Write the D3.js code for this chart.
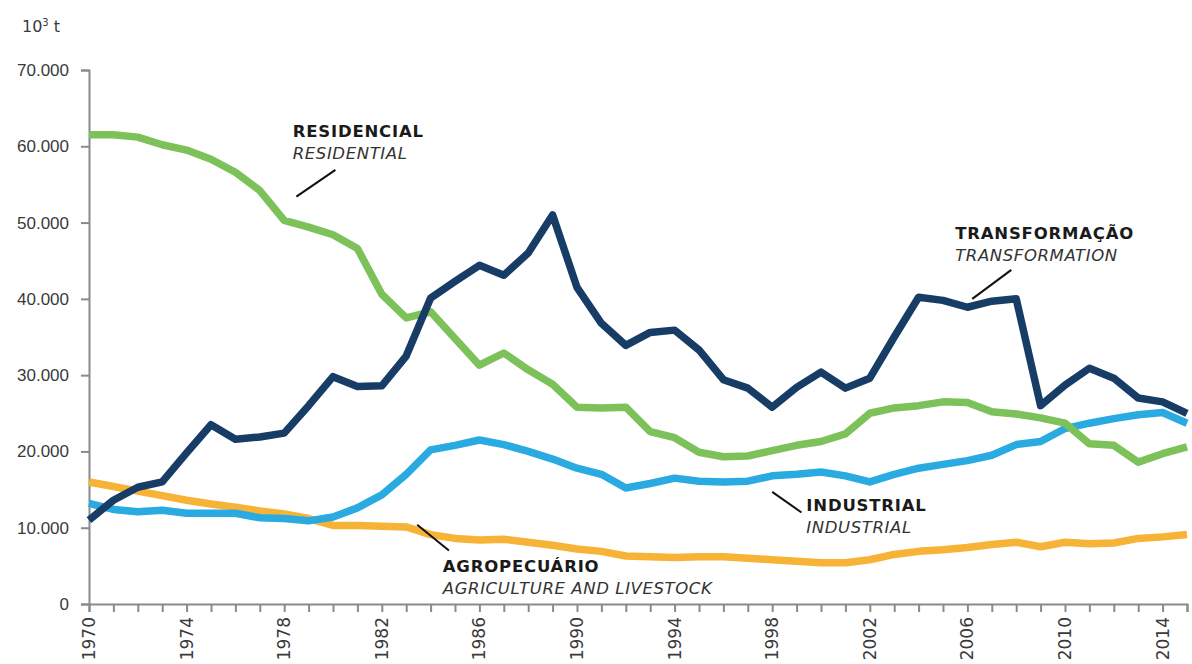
<!DOCTYPE html>
<html>
<head>
<meta charset="utf-8">
<script src="https://cdn.jsdelivr.net/npm/d3@7"></script>
<style>
  body { margin: 0; background: #fff; }
  svg { font-family: "DejaVu Sans", Verdana, sans-serif; }
</style>
</head>
<body>
<svg width="1192" height="664"></svg>
<script>
'use strict'

// Years 1970..2015
const years = d3.range(1970, 2016);

// 10^3 t
const transformacao = [11.0, 13.6, 15.3, 16.0, 19.8, 23.5, 21.6, 21.9, 22.4, 26.0,
  29.8, 28.5, 28.6, 32.5, 40.1, 42.3, 44.4, 43.1, 46.0, 51.0,
  41.5, 36.8, 33.9, 35.6, 35.9, 33.3, 29.4, 28.3, 25.8, 28.4,
  30.4, 28.3, 29.6, 35.0, 40.2, 39.8, 38.9, 39.7, 40.0, 26.0,
  28.7, 30.9, 29.6, 27.0, 26.5, 25.0];
const residencial = [61.5, 61.5, 61.2, 60.2, 59.5, 58.3, 56.6, 54.2, 50.3, 49.4,
  48.4, 46.6, 40.6, 37.5, 38.3, 34.8, 31.3, 32.9, 30.7, 28.8,
  25.8, 25.7, 25.8, 22.6, 21.8, 19.9, 19.3, 19.4, 20.1, 20.8,
  21.3, 22.3, 25.0, 25.7, 26.0, 26.5, 26.4, 25.2, 24.9, 24.4,
  23.7, 21.0, 20.8, 18.6, 19.7, 20.6];
const industrial = [13.2, 12.4, 12.1, 12.3, 11.9, 11.9, 11.9, 11.3, 11.2, 10.9,
  11.4, 12.6, 14.3, 17.0, 20.2, 20.8, 21.5, 20.9, 20.0, 19.0,
  17.8, 17.0, 15.2, 15.8, 16.5, 16.1, 16.0, 16.1, 16.8, 17.0,
  17.3, 16.8, 16.0, 17.0, 17.8, 18.3, 18.8, 19.5, 20.9, 21.3,
  23.0, 23.7, 24.3, 24.8, 25.1, 23.7];
const agropecuario = [16.0, 15.4, 14.8, 14.2, 13.6, 13.1, 12.7, 12.2, 11.8, 11.2,
  10.3, 10.3, 10.2, 10.1, 9.1, 8.6, 8.4, 8.5, 8.1, 7.7,
  7.2, 6.9, 6.3, 6.2, 6.1, 6.2, 6.2, 6.0, 5.8, 5.6,
  5.4, 5.4, 5.8, 6.5, 6.9, 7.1, 7.4, 7.8, 8.1, 7.5,
  8.1, 7.9, 8.0, 8.6, 8.8, 9.1];

const yTicks = [0, 10, 20, 30, 40, 50, 60, 70];
const xLabelYears = d3.range(1970, 2016, 4);

const series = [
  { name: 'agro', values: agropecuario, color: '#f6b335' },
  { name: 'ind', values: industrial, color: '#29abe2' },
  { name: 'res', values: residencial, color: '#7cc159' },
  { name: 'trans', values: transformacao, color: '#173d66' }
];

// label text, baseline position (year/value) and leader line ends
const labels = [
  { pt: 'RESIDENCIAL', en: 'RESIDENTIAL', tx: 1978.35, ty: 61.2, l: [[1978.5, 53.4], [1980.1, 56.9]] },
  { pt: 'TRANSFORMAÇÃO', en: 'TRANSFORMATION', tx: 2005.5, ty: 47.9, l: [[2006.2, 40.0], [2007.8, 43.8]] },
  { pt: 'INDUSTRIAL', en: 'INDUSTRIAL', tx: 1999.4, ty: 12.2, l: [[1998.0, 14.7], [1999.2, 12.0]] },
  { pt: 'AGROPECUÁRIO', en: 'AGRICULTURE AND LIVESTOCK', tx: 1984.5, ty: 4.2, l: [[1983.45, 10.4], [1984.75, 7.0]] }
];

const svg = d3.select('svg');
const margin = { left: 89, right: 1187, top: 70, bottom: 604 };

const x = d3.scaleLinear().domain([1970, 2015]).range([margin.left, margin.right]);
const y = d3.scaleLinear().domain([0, 70]).range([margin.bottom, margin.top]);

// y axis
const yAxis = svg.append('g')
  .attr('transform', `translate(${margin.left},0)`)
  .call(d3.axisLeft(y).tickValues(yTicks).tickSize(8).tickPadding(12)
    .tickFormat(d => d === 0 ? '0' : d + '.000'));
yAxis.select('.domain').attr('stroke', '#8a8a8a').attr('stroke-width', 2);
yAxis.selectAll('.tick line').attr('stroke', '#8a8a8a').attr('stroke-width', 2);
yAxis.selectAll('.tick text').attr('fill', '#3a3a3a').style('font-size', '17px');

// x axis
const xAxis = svg.append('g')
  .attr('transform', `translate(0,${margin.bottom})`)
  .call(d3.axisBottom(x).tickValues(years).tickSize(8).tickFormat(''));
xAxis.select('.domain').attr('stroke', '#8a8a8a').attr('stroke-width', 2);
xAxis.selectAll('.tick line').attr('stroke', '#8a8a8a').attr('stroke-width', 2);

svg.append('g')
  .selectAll('text')
  .data(xLabelYears)
  .join('text')
  .attr('transform', d => `translate(${x(d) + 6},${margin.bottom + 13}) rotate(-90)`)
  .attr('text-anchor', 'end')
  .attr('fill', '#3a3a3a')
  .style('font-size', '17px')
  .text(d => d);

// unit label
const unit = svg.append('text')
  .attr('x', 22).attr('y', 32)
  .attr('fill', '#3a3a3a')
  .style('font-size', '16px');
unit.append('tspan').text('10');
unit.append('tspan').attr('dy', -6).style('font-size', '10px').text('3');
unit.append('tspan').attr('dy', 6).text(' t');

// lines
const line = d3.line()
  .x((d, i) => x(years[i]))
  .y(d => y(d));

svg.append('g')
  .selectAll('path')
  .data(series)
  .join('path')
  .attr('d', d => line(d.values))
  .attr('fill', 'none')
  .attr('stroke', d => d.color)
  .attr('stroke-width', 7.5)
  .attr('stroke-linejoin', 'round')
  .attr('stroke-linecap', 'butt');

// annotations
const ann = svg.append('g');
labels.forEach(lb => {
  ann.append('text')
    .attr('x', x(lb.tx)).attr('y', y(lb.ty))
    .attr('fill', '#1a1a1a')
    .style('font-size', '16.5px').style('font-weight', 'bold')
    .style('letter-spacing', '0.8px')
    .text(lb.pt);
  ann.append('text')
    .attr('x', x(lb.tx)).attr('y', y(lb.ty) + 22)
    .attr('fill', '#333')
    .style('font-size', '16.5px').style('font-style', 'italic')
    .style('letter-spacing', '0.6px')
    .text(lb.en);
  ann.append('line')
    .attr('x1', x(lb.l[0][0])).attr('y1', y(lb.l[0][1]))
    .attr('x2', x(lb.l[1][0])).attr('y2', y(lb.l[1][1]))
    .attr('stroke', '#111').attr('stroke-width', 2);
});
</script>
</body>
</html>
